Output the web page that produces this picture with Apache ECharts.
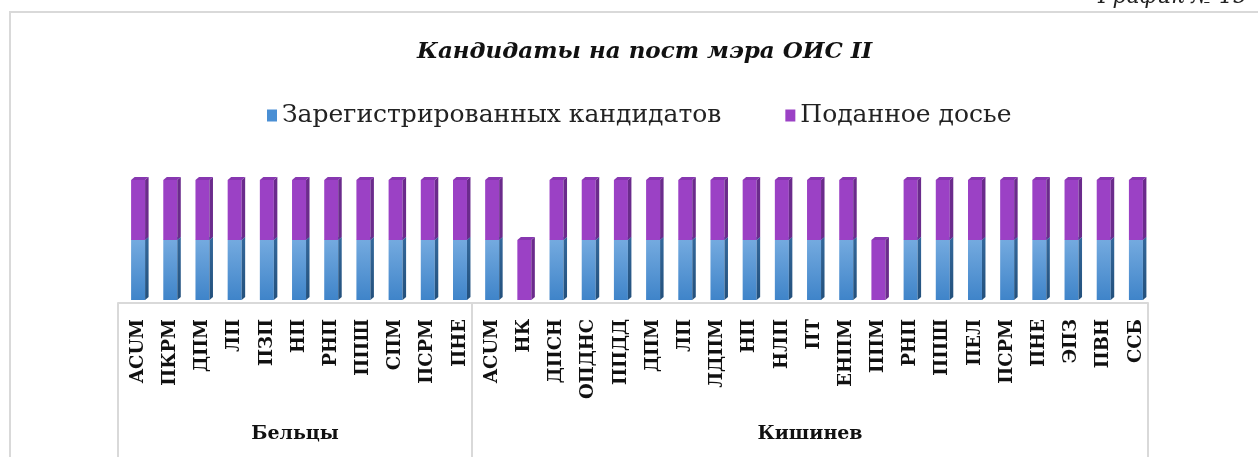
<!DOCTYPE html>
<html>
<head>
<meta charset="utf-8">
<script src="https://cdn.jsdelivr.net/npm/echarts@6/dist/echarts.min.js"></script>
<style>
  html, body { margin: 0; padding: 0; background: #fff; }
  #chart { width: 1258px; height: 457px; }
</style>
</head>
<body>
<div id="chart"></div>
<script>
// parties per city, in drawing order
const groups = ['Бельцы', 'Кишинев']
const balti = ['ACUM', 'ПКРМ', 'ДПМ', 'ЛП', 'ПЗП', 'НП', 'РНП', 'ППШ', 'СПМ', 'ПСРМ', 'ПНЕ']
const chisinau = ['ACUM', 'НК', 'ДПСН', 'ОПДНС', 'ППДД', 'ДПМ', 'ЛП', 'ЛДПМ', 'НП', 'НЛП', 'ПТ',
  'ЕНПМ', 'ППМ', 'РНП', 'ППШ', 'ПЕЛ', 'ПСРМ', 'ПНЕ', 'ЭПЗ', 'ПВН', 'ССБ']

const registered = [1, 1, 1, 1, 1, 1, 1, 1, 1, 1, 1,
  1, 0, 1, 1, 1, 1, 1, 1, 1, 1, 1, 1, 0, 1, 1, 1, 1, 1, 1, 1, 1]
const dossier = [1, 1, 1, 1, 1, 1, 1, 1, 1, 1, 1,
  1, 1, 1, 1, 1, 1, 1, 1, 1, 1, 1, 1, 1, 1, 1, 1, 1, 1, 1, 1, 1]

const seriesNames = ['Зарегистрированных кандидатов', 'Поданное досье']

const categories = balti.concat(chisinau)
// second-level axis: group name sits on the middle category of its group
const groupAxis = categories.map(() => '')
groupAxis[Math.floor((balti.length - 1) / 2)] = groups[0]
groupAxis[balti.length + Math.floor((chisinau.length - 1) / 2)] = groups[1]

const blueData = categories.map((c, i) => [i, 0, registered[i]])
const purpleData = categories.map((c, i) => [i, registered[i], registered[i] + dossier[i]])

const SERIF = '"DejaVu Serif", "Liberation Serif", serif'

// fake 3D column: front face, right side and top face
function box(front, side, top) {
  return function (params, api) {
    const i = api.value(0)
    const lo = api.value(1)
    const hi = api.value(2)
    if (hi <= lo) return null
    const pLo = api.coord([i, lo])
    const pHi = api.coord([i, hi])
    const w = 14, d = 3.5, r = 3, lift = 3
    const x = pLo[0] - 3
    const y0 = pLo[1] - lift
    const y1 = pHi[1] - lift
    return {
      type: 'group',
      children: [
        { type: 'rect', shape: { x, y: y1, width: w, height: y0 - y1 }, style: { fill: front } },
        {
          type: 'polygon',
          shape: { points: [[x + w, y1], [x + w + d, y1 - r], [x + w + d, y0 - r], [x + w, y0]] },
          style: { fill: side },
        },
        {
          type: 'polygon',
          shape: { points: [[x, y1], [x + d, y1 - r], [x + w + d, y1 - r], [x + w, y1]] },
          style: { fill: top },
        },
      ],
    }
  }
}

const grad = (a, b) => new echarts.graphic.LinearGradient(0, 0, 0, 1, [
  { offset: 0, color: a },
  { offset: 1, color: b },
])

const chart = echarts.init(document.getElementById('chart'))

chart.setOption({
  backgroundColor: '#fff',
  animation: false,
  title: {
    text: 'Кандидаты на пост мэра ОИС II',
    left: 412,
    top: 36,
    textStyle: { fontFamily: SERIF, fontSize: 23, fontWeight: 'bold', fontStyle: 'italic', color: '#111' },
  },
  legend: {
    top: 98,
    left: 262,
    itemGap: 64,
    itemWidth: 10,
    itemHeight: 12,
    icon: 'rect',
    textStyle: { fontFamily: SERIF, fontSize: 25, color: '#222' },
    data: seriesNames,
  },
  graphic: [
    {
      type: 'rect',
      shape: { x: 10, y: 12, width: 1280, height: 470 },
      style: { fill: 'none', stroke: '#d9d9d9', lineWidth: 2 },
      silent: true,
    },
    {
      type: 'text',
      left: 1098,
      top: -14,
      style: { text: 'График № 15', font: 'italic 22px ' + SERIF, fill: '#222' },
    },
  ],
  grid: { left: 118, right: 110, top: 183, bottom: 154, outerBoundsMode: 'none' },
  xAxis: [
    {
      type: 'category',
      data: categories,
      axisLine: { lineStyle: { color: '#d9d9d9', width: 2 } },
      axisTick: { show: false },
      axisLabel: {
        interval: 0,
        rotate: 90,
        margin: 16,
        verticalAlign: 'top',
        lineHeight: 8,
        fontFamily: SERIF,
        fontSize: 18,
        fontWeight: 'bold',
        color: '#111',
      },
    },
    {
      type: 'category',
      data: groupAxis,
      position: 'bottom',
      axisLine: { show: false },
      axisTick: {
        show: true,
        length: 156,
        interval: i => i === 0 || i === balti.length,
        lineStyle: { color: '#d9d9d9', width: 2 },
      },
      axisLabel: {
        interval: 0,
        margin: 122,
        fontFamily: SERIF,
        fontSize: 19,
        fontWeight: 'bold',
        color: '#111',
      },
    },
  ],
  yAxis: { type: 'value', min: 0, max: 2, show: false },
  series: [
    {
      name: seriesNames[0],
      type: 'custom',
      itemStyle: { color: '#4a8fd4' },
      encode: { x: 0, y: [1, 2] },
      renderItem: box(grad('#74aadf', '#3f84c9'), grad('#33689b', '#23507c'), '#5d97cf'),
      data: blueData,
    },
    {
      name: seriesNames[1],
      type: 'custom',
      itemStyle: { color: '#9b41c5' },
      encode: { x: 0, y: [1, 2] },
      renderItem: box('#9b41c5', '#6b2b8c', '#8737b0'),
      data: purpleData,
    },
  ],
})
</script>
</body>
</html>
